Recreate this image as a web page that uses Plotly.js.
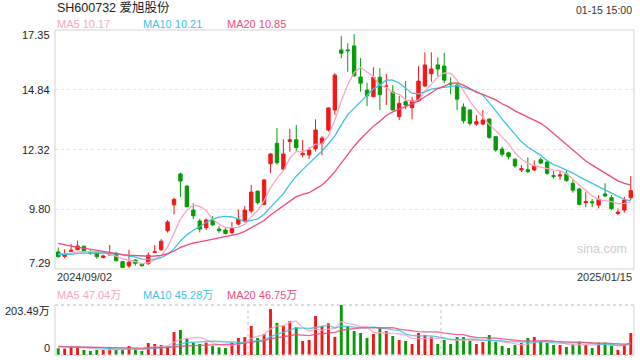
<!DOCTYPE html>
<html><head><meta charset="utf-8">
<script src="https://cdn.plot.ly/plotly-3.0.1.min.js"></script>
<style>html,body{margin:0;padding:0;background:#fff}#chart{width:640px;height:360px}</style>
</head><body><div id="chart"></div>
<script>
// ---- data ----
const opens = [8.01,7.82,8.03,8.10,8.25,8.01,7.98,7.77,7.88,7.95,7.60,7.42,7.67,7.50,7.53,7.98,8.10,8.90,9.99,11.29,
10.78,9.77,9.31,9.03,9.34,8.97,8.93,8.82,9.18,9.32,9.73,10.57,10.00,11.72,12.58,11.49,12.66,12.73,12.10,12.09,
12.35,12.58,13.14,13.98,16.51,16.51,16.68,15.37,14.82,14.54,15.36,14.96,14.74,13.70,14.33,14.08,14.37,14.99,15.51,15.88,
15.83,15.11,15.03,14.11,13.98,13.39,13.39,13.60,12.86,12.34,12.18,11.91,11.46,11.47,11.46,11.89,11.79,11.22,11.20,11.29,
10.90,10.66,10.08,10.12,9.98,10.45,10.29,9.63,9.77,10.29];
const highs = [8.20,8.12,8.35,8.48,8.27,8.08,8.05,7.89,8.30,8.01,7.63,8.10,7.71,7.54,7.99,8.30,8.55,9.35,10.29,11.34,
10.80,10.06,9.41,9.42,9.52,9.10,9.03,9.27,9.80,9.94,10.83,10.57,11.08,12.16,13.22,12.75,13.19,13.35,12.72,12.41,
13.59,12.89,14.10,15.53,17.10,16.79,17.18,16.17,15.13,15.78,15.74,15.50,15.03,14.58,15.20,14.54,15.83,16.41,16.41,16.20,
16.39,15.36,15.11,14.26,14.01,13.77,13.98,13.63,12.89,12.44,12.23,11.95,11.67,11.99,11.86,11.99,11.84,11.41,11.43,11.46,
11.04,10.71,10.54,10.24,10.40,10.90,10.40,9.84,10.33,11.20];
const lows = [7.77,7.74,8.01,8.09,8.01,7.89,7.72,7.74,7.87,7.61,7.33,7.33,7.43,7.39,7.46,7.96,8.05,8.82,9.59,10.33,
9.89,9.39,8.83,8.93,9.10,8.82,8.75,8.76,9.13,9.24,9.63,10.00,10.00,11.34,11.68,11.46,12.23,12.26,11.99,11.92,
12.23,12.08,13.07,13.78,16.16,15.59,15.38,14.75,14.15,14.54,13.98,14.19,13.98,13.56,14.02,13.59,14.33,14.94,15.17,15.38,
15.11,14.64,13.98,13.42,13.32,13.31,13.35,12.77,12.23,12.02,11.91,11.55,11.37,11.32,11.41,11.70,11.25,11.09,11.04,10.96,
10.50,9.97,9.89,9.89,9.84,10.33,9.77,9.56,9.66,10.19];
const closes = [7.81,7.92,8.08,8.26,8.02,7.96,7.81,7.84,7.92,7.64,7.36,7.58,7.53,7.43,7.87,8.01,8.46,9.27,10.22,10.99,
9.91,9.53,8.97,9.35,9.15,8.90,8.78,8.99,9.39,9.77,10.53,10.08,11.04,12.13,11.76,12.13,12.73,12.40,12.16,12.30,
13.14,12.80,14.07,15.45,16.37,16.48,15.43,15.11,14.58,15.36,14.63,14.99,13.98,14.26,14.19,14.37,15.20,15.88,15.71,15.71,
15.24,15.08,14.44,13.53,13.42,13.49,13.56,12.83,12.30,12.12,12.02,11.63,11.51,11.39,11.63,11.75,11.32,11.19,11.25,11.01,
10.61,10.01,10.12,10.08,10.22,10.36,9.83,9.68,10.19,10.59];
// volume, in 万 shares
const volumes = [27.2,25.8,36.6,34.0,20.3,16.3,20.3,20.3,31.2,20.3,20.3,36.6,23.0,16.3,48.8,44.8,40.7,34.0,93.6,101.7,
66.4,50.2,44.8,50.2,36.6,31.2,28.5,50.2,69.2,73.3,118.0,69.2,85.5,187.0,130.2,120.8,137.1,112.7,57.0,61.0,
158.7,118.0,129.0,73.3,203.49,115.2,97.7,89.5,69.2,85.5,111.0,97.7,77.3,61.0,57.0,44.8,89.5,81.4,74.5,44.8,
61.0,44.8,73.3,73.3,57.0,44.8,52.9,81.4,52.9,36.6,28.5,40.7,48.8,69.2,73.3,57.0,48.8,40.7,40.7,32.6,
43.4,54.0,40.7,28.5,50.2,50.2,36.6,20.3,40.7,89.5];
// sessions before the first visible day (only feed the moving averages)
const priorCloses = [9.25,9.18,9.05,8.98,8.90,8.80,8.70,8.60,8.50,8.34,8.05,7.95,7.90,7.88,7.82,7.85,7.90,7.96,7.98];
const priorVolumes = [38,30,42,35,28,33,40,31,27,36,29,34,30,26,41,33,45,38,36];

const title = "SH600732 爱旭股份";
const timeLabel = "01-15 15:00";
const dateLabels = ["2024/09/02","2025/01/15"];
const priceTicks = [7.29, 9.80, 12.32, 14.84, 17.35];
const priceTickText = ["7.29","9.80","12.32","14.84","17.35"];
const volTicks = [0, 203.49];
const volTickText = ["0","203.49万"];
const maNames = ["MA5","MA10","MA20"];
const maPeriods = [5,10,20];
const priceLegend = ["10.17","10.21","10.85"];
const volLegend = ["47.04万","45.28万","46.75万"];

// ---- styling ----
const RED = "#f21818", GREEN = "#079b07";
const MA_COLORS = ["#f9a5c4","#3cc4e0","#ea4a80"];
const FONT = "Liberation Sans, Arial, Noto Sans CJK SC, sans-serif";
const L = 55, R = 634, T = 30, B = 355, W = 640, H = 360;
const px = x => (x - L) / (R - L);
const py = y => (B - y) / (B - T);

const idx = closes.map((_, i) => i);
function movingAvg(series, prior, n) {
  const all = prior.concat(series), off = prior.length;
  return series.map((_, i) => {
    const s = all.slice(off + i - n + 1, off + i + 1);
    return s.reduce((a, b) => a + b, 0) / s.length;
  });
}
const barColors = closes.map((c, i) => c >= opens[i] ? RED : GREEN);

const traces = [{
  type: "candlestick", x: idx, open: opens, high: highs, low: lows, close: closes,
  xaxis: "x", yaxis: "y", hoverinfo: "skip", whiskerwidth: 0,
  increasing: {line: {color: RED, width: 1}, fillcolor: RED},
  decreasing: {line: {color: GREEN, width: 1}, fillcolor: GREEN}
}];
maPeriods.forEach((n, k) => traces.push({
  type: "scatter", mode: "lines", x: idx, y: movingAvg(closes, priorCloses, n),
  xaxis: "x", yaxis: "y", line: {color: MA_COLORS[k], width: 1.3}, hoverinfo: "skip"
}));
traces.push({
  type: "bar", x: idx, y: volumes, xaxis: "x2", yaxis: "y2", width: 0.45,
  marker: {color: barColors, line: {width: 0}}, hoverinfo: "skip"
});
maPeriods.forEach((n, k) => traces.push({
  type: "scatter", mode: "lines", x: idx, y: movingAvg(volumes, priorVolumes, n),
  xaxis: "x2", yaxis: "y2", line: {color: MA_COLORS[k], width: 1.3}, opacity: 0.85, hoverinfo: "skip"
}));

const ann = [];
const txt = (x, y, text, color, size, xanchor, extra) => ann.push(Object.assign({
  xref: "paper", yref: "paper", x: px(x), y: py(y), text: text, showarrow: false,
  xanchor: xanchor, yanchor: "middle", font: {family: FONT, size: size, color: color}
}, extra || {}));

txt(55, 8, title, "#222", 12.5, "left");
txt(634, 10, timeLabel, "#333", 10.5, "right");
const legX = [55, 141, 225];
maNames.forEach((m, k) => {
  txt(legX[k], 24, m + " " + priceLegend[k], MA_COLORS[k], 11, "left");
  txt(legX[k], 295, m + " " + volLegend[k], MA_COLORS[k], 11, "left");
});
txt(55, 277, dateLabels[0], "#333", 11, "left");
txt(634, 277, dateLabels[1], "#333", 11, "right");
txt(602, 249, "sina.com", "#cdcdcd", 12.5, "center");
priceTicks.forEach((v, k) => {
  let shift = 0;
  if (k === 0) shift = 6;
  if (k === priceTicks.length - 1) shift = -5;
  ann.push({xref: "paper", yref: "y", x: 0, y: v, xshift: -3, yshift: shift, text: priceTickText[k],
    showarrow: false, xanchor: "right", yanchor: "middle", font: {family: FONT, size: 11, color: "#222"}});
});
volTicks.forEach((v, k) => {
  ann.push({xref: "paper", yref: "y2", x: 0, y: v, xshift: -3, yshift: k === 0 ? 7 : -6, text: volTickText[k],
    showarrow: false, xanchor: "right", yanchor: "middle", font: {family: FONT, size: 11, color: "#222"}});
});

const volTop = py(305), mainBot = py(269);
const shapes = [
  {type: "rect", xref: "paper", yref: "paper", x0: 0, x1: 1, y0: mainBot, y1: 1, line: {color: "#d3d3d3", width: 1}},
  {type: "line", xref: "paper", yref: "paper", x0: 0, x1: 1, y0: volTop, y1: volTop, line: {color: "#cfcfcf", width: 1.5, dash: "dot"}},
  {type: "line", xref: "paper", yref: "paper", x0: 0, x1: 1, y0: 0, y1: 0, line: {color: "#cfcfcf", width: 1.5, dash: "dot"}},
  {type: "line", xref: "paper", yref: "paper", x0: 0, x1: 0, y0: 0, y1: volTop, line: {color: "#d3d3d3", width: 1}},
  {type: "line", xref: "paper", yref: "paper", x0: 1, x1: 1, y0: 0, y1: volTop, line: {color: "#d3d3d3", width: 1}},
  {type: "line", xref: "x2", yref: "paper", x0: 29.5, x1: 29.5, y0: 0, y1: volTop, line: {color: "#cfcfcf", width: 1.2, dash: "dot"}},
  {type: "line", xref: "x2", yref: "paper", x0: 59.5, x1: 59.5, y0: 0, y1: volTop, line: {color: "#cfcfcf", width: 1.2, dash: "dot"}}
];

const axBase = {range: [-0.5, 89.5], showgrid: false, zeroline: false, showticklabels: false, ticks: "", fixedrange: true, showline: false};
const layout = {
  width: W, height: H, margin: {l: L, r: W - R, t: T, b: H - B},
  paper_bgcolor: "#fff", plot_bgcolor: "#fff", showlegend: false, hovermode: false, boxgap: 0.25,
  xaxis: Object.assign({}, axBase, {anchor: "y", rangeslider: {visible: false}}),
  xaxis2: Object.assign({}, axBase, {anchor: "y2"}),
  yaxis: {domain: [mainBot, 1], range: [7.29, 17.35], tickvals: priceTicks.slice(1, 4), showticklabels: false,
    showgrid: true, gridcolor: "#e2e2e2", griddash: "dot", gridwidth: 1.5, zeroline: false, ticks: "", fixedrange: true},
  yaxis2: {domain: [0, volTop], range: [0, 203.49], showgrid: false, showticklabels: false, zeroline: false, ticks: "", fixedrange: true},
  annotations: ann, shapes: shapes
};
Plotly.newPlot("chart", traces, layout, {displayModeBar: false, staticPlot: true});
</script></body></html>
